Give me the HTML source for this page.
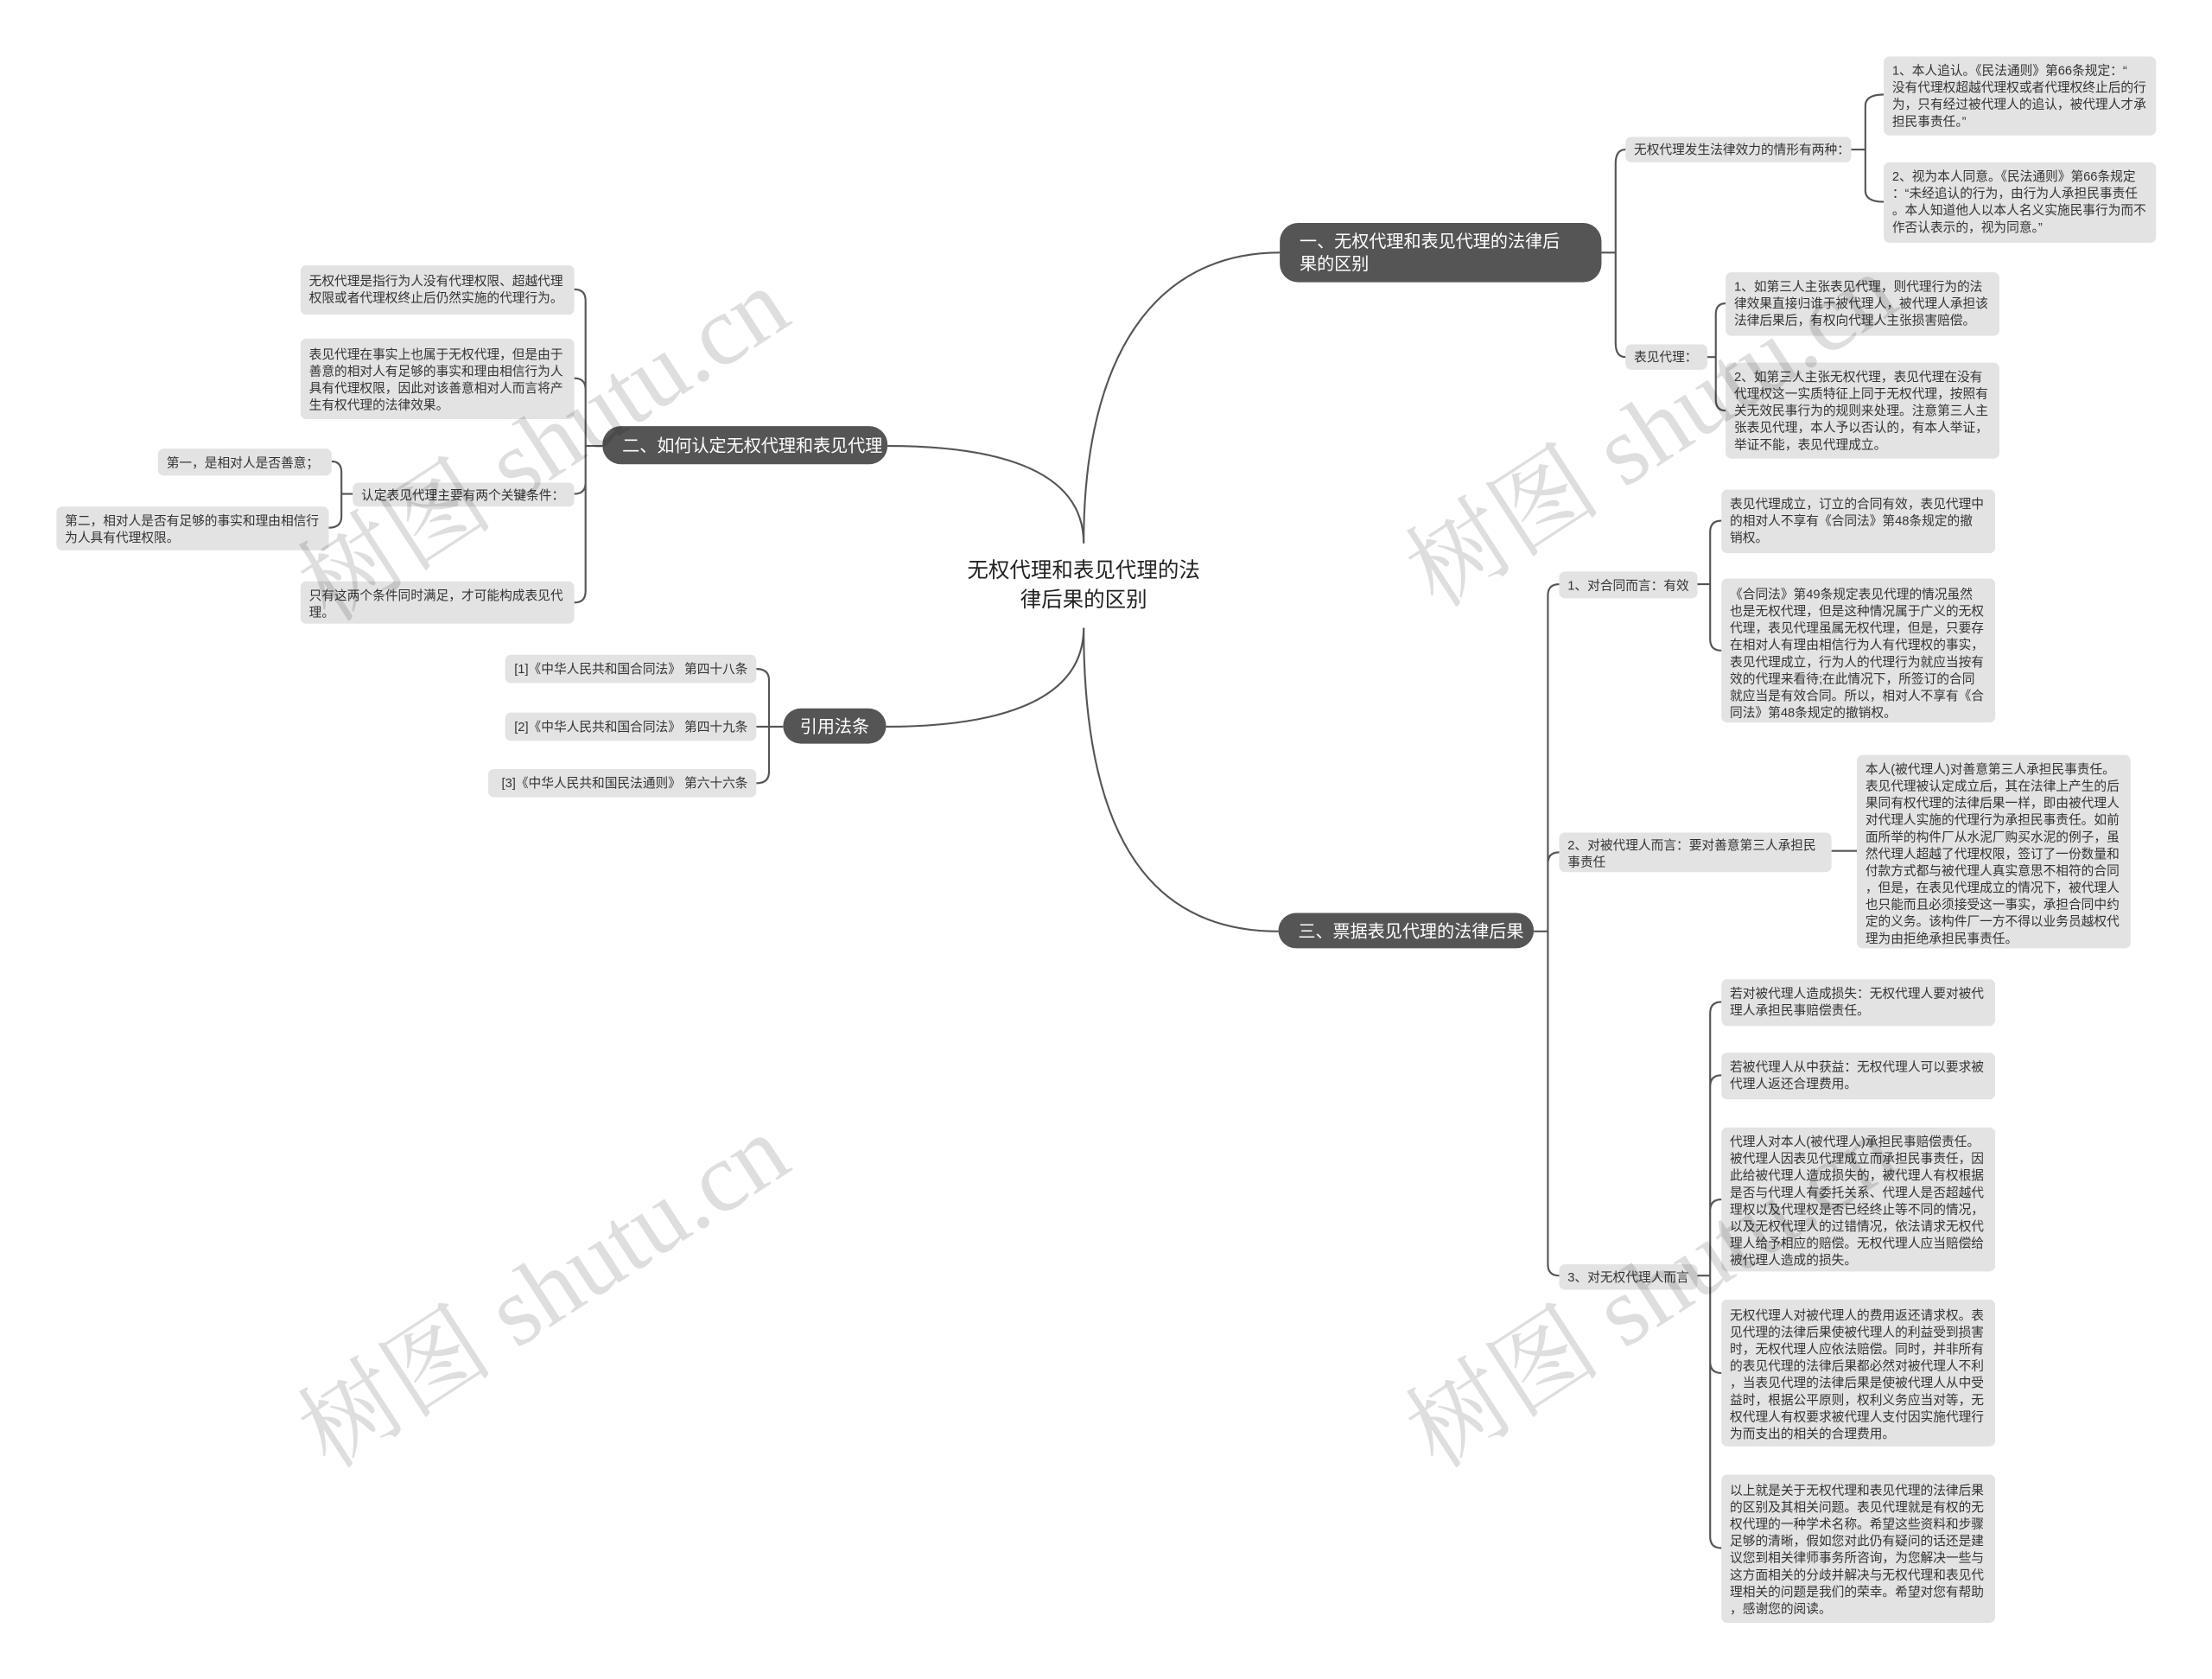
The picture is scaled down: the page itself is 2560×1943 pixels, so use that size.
<!DOCTYPE html>
<html><head><meta charset="utf-8">
<style>
html,body{margin:0;padding:0;background:#fff;}
body{width:2560px;height:1943px;overflow:hidden;position:relative;}
#w{position:absolute;left:0;top:0;width:1568px;height:1190px;transform:scale(1.633);transform-origin:0 0;font-family:"Liberation Sans","Noto Sans CJK SC",sans-serif;}
.n{position:absolute;background:#e3e3e3;border-radius:4px;font-size:9px;line-height:12px;color:#333;padding:4px 6px;box-sizing:border-box;white-space:nowrap;}
.d{position:absolute;background:#555;color:#fff;border-radius:13px;font-size:12.3px;line-height:16px;box-sizing:border-box;white-space:nowrap;display:flex;align-items:center;padding:0 14px;}
.c{position:absolute;font-size:15px;line-height:21px;color:#222;text-align:center;white-space:nowrap;}
svg{position:absolute;left:0;top:0;}
.wm{position:absolute;font-family:"Liberation Serif","Noto Serif CJK SC",serif;font-size:70px;color:rgba(0,0,0,0.13);transform:rotate(-33deg);transform-origin:0 0;white-space:nowrap;pointer-events:none;}
</style></head><body><div id="w">
<svg width="1568" height="1190" fill="none" stroke="#555" stroke-width="1.3">
<path d="M768 385 C768 250 820 179 907 179"/>
<path d="M768 385 C768 330 700 316 629 316"/>
<path d="M768 445 C768 500 700 515 628 515"/>
<path d="M768 445 C768 600 820 660 906 660"/>
<path d="M1135 179 H1145 M1145 179 V116 Q1145 106 1152 106 M1145 179 V243 Q1145 253 1152 253"/>
<path d="M1312 106 H1322 M1322 106 V75 Q1322 67 1335 67 M1322 106 V135 Q1322 143 1335 143"/>
<path d="M1210 253 H1216 M1216 253 V223 Q1216 215 1223 215 M1216 253 V283 Q1216 291 1223 291"/>
<path d="M427 316 H415 M415 316 V213 Q415 205 407 205 M415 316 V276 Q415 268 407 268 M415 316 V342 Q415 350 407 350 M415 316 V419 Q415 427 407 427"/>
<path d="M250 350 H242 M242 350 V335 Q242 327 235 327 M242 350 V366 Q242 374 233 374"/>
<path d="M555 515 H545 M545 515 V482 Q545 474 536 474 M545 515 H536 M545 515 V547 Q545 555 536 555"/>
<path d="M1087 660 H1097 M1097 660 V422 Q1097 414 1105 414 M1097 660 V612 Q1097 604 1105 604 M1097 660 V896 Q1097 904 1105 904"/>
<path d="M1203 414 H1212 M1212 414 V377 Q1212 369 1220 369 M1212 414 V453 Q1212 461 1220 461"/>
<path d="M1298 603 H1316"/>
<path d="M1203 904 H1212 M1212 904 V718 Q1212 710 1220 710 M1212 904 V770 Q1212 762 1220 762 M1212 904 V858 Q1212 850 1220 850 M1212 904 V965 Q1212 973 1220 973 M1212 904 V1089 Q1212 1097 1220 1097"/>
</svg>

<div class="c" style="left:672px;top:394px;width:192px;">无权代理和表见代理的法<br>律后果的区别</div>

<div class="d" style="left:907px;top:158px;width:228px;height:42px;">一、无权代理和表见代理的法律后<br>果的区别</div>
<div class="n" style="left:1152px;top:97px;width:160px;height:18px;padding-top:3px;">无权代理发生法律效力的情形有两种：</div>
<div class="n" style="left:1335px;top:40px;width:193px;height:56px;">1、本人追认。《民法通则》第66条规定：“<br>没有代理权超越代理权或者代理权终止后的行<br>为，只有经过被代理人的追认，被代理人才承<br>担民事责任。”</div>
<div class="n" style="left:1335px;top:115px;width:193px;height:57px;">2、视为本人同意。《民法通则》第66条规定<br>：“未经追认的行为，由行为人承担民事责任<br>。本人知道他人以本人名义实施民事行为而不<br>作否认表示的，视为同意。”</div>
<div class="n" style="left:1152px;top:244px;width:58px;height:18px;padding-top:3px;">表见代理：</div>
<div class="n" style="left:1223px;top:193px;width:194px;height:45px;">1、如第三人主张表见代理，则代理行为的法<br>律效果直接归谁于被代理人，被代理人承担该<br>法律后果后，有权向代理人主张损害赔偿。</div>
<div class="n" style="left:1223px;top:257px;width:194px;height:68px;">2、如第三人主张无权代理，表见代理在没有<br>代理权这一实质特征上同于无权代理，按照有<br>关无效民事行为的规则来处理。注意第三人主<br>张表见代理，本人予以否认的，有本人举证，<br>举证不能，表见代理成立。</div>

<div class="d" style="left:427px;top:302px;width:202px;height:27px;">二、如何认定无权代理和表见代理</div>
<div class="n" style="left:213px;top:188px;width:194px;height:35px;padding-top:5px;">无权代理是指行为人没有代理权限、超越代理<br>权限或者代理权终止后仍然实施的代理行为。</div>
<div class="n" style="left:213px;top:240px;width:194px;height:57px;padding-top:5px;">表见代理在事实上也属于无权代理，但是由于<br>善意的相对人有足够的事实和理由相信行为人<br>具有代理权限，因此对该善意相对人而言将产<br>生有权代理的法律效果。</div>
<div class="n" style="left:250px;top:342px;width:157px;height:17px;padding-top:3px;">认定表见代理主要有两个关键条件：</div>
<div class="n" style="left:112px;top:318px;width:123px;height:19px;padding-top:4px;">第一，是相对人是否善意；</div>
<div class="n" style="left:40px;top:359px;width:193px;height:31px;">第二，相对人是否有足够的事实和理由相信行<br>为人具有代理权限。</div>
<div class="n" style="left:213px;top:412px;width:194px;height:30px;">只有这两个条件同时满足，才可能构成表见代<br>理。</div>

<div class="d" style="left:555px;top:502px;width:73px;height:25px;justify-content:center;padding:0;">引用法条</div>
<div class="n" style="left:358px;top:464px;width:178px;height:20px;padding-top:4px;text-align:right;">[1]《中华人民共和国合同法》 第四十八条</div>
<div class="n" style="left:358px;top:505px;width:178px;height:20px;padding-top:4px;text-align:right;">[2]《中华人民共和国合同法》 第四十九条</div>
<div class="n" style="left:346px;top:545px;width:190px;height:20px;padding-top:4px;text-align:right;">[3]《中华人民共和国民法通则》 第六十六条</div>

<div class="d" style="left:906px;top:647px;width:181px;height:25px;">三、票据表见代理的法律后果</div>
<div class="n" style="left:1105px;top:405px;width:98px;height:19px;padding-top:4px;">1、对合同而言：有效</div>
<div class="n" style="left:1220px;top:347px;width:194px;height:45px;">表见代理成立，订立的合同有效，表见代理中<br>的相对人不享有《合同法》第48条规定的撤<br>销权。</div>
<div class="n" style="left:1220px;top:410px;width:194px;height:102px;padding-top:5px;">《合同法》第49条规定表见代理的情况虽然<br>也是无权代理，但是这种情况属于广义的无权<br>代理，表见代理虽属无权代理，但是，只要存<br>在相对人有理由相信行为人有代理权的事实，<br>表见代理成立，行为人的代理行为就应当按有<br>效的代理来看待;在此情况下，所签订的合同<br>就应当是有效合同。所以，相对人不享有《合<br>同法》第48条规定的撤销权。</div>
<div class="n" style="left:1105px;top:590px;width:193px;height:28px;padding-top:3px;">2、对被代理人而言：要对善意第三人承担民<br>事责任</div>
<div class="n" style="left:1316px;top:535px;width:194px;height:137px;padding-top:4px;">本人(被代理人)对善意第三人承担民事责任。<br>表见代理被认定成立后，其在法律上产生的后<br>果同有权代理的法律后果一样，即由被代理人<br>对代理人实施的代理行为承担民事责任。如前<br>面所举的构件厂从水泥厂购买水泥的例子，虽<br>然代理人超越了代理权限，签订了一份数量和<br>付款方式都与被代理人真实意思不相符的合同<br>，但是，在表见代理成立的情况下，被代理人<br>也只能而且必须接受这一事实，承担合同中约<br>定的义务。该构件厂一方不得以业务员越权代<br>理为由拒绝承担民事责任。</div>
<div class="n" style="left:1105px;top:896px;width:98px;height:18px;padding-top:3px;">3、对无权代理人而言</div>
<div class="n" style="left:1220px;top:694px;width:194px;height:33px;">若对被代理人造成损失：无权代理人要对被代<br>理人承担民事赔偿责任。</div>
<div class="n" style="left:1220px;top:746px;width:194px;height:33px;">若被代理人从中获益：无权代理人可以要求被<br>代理人返还合理费用。</div>
<div class="n" style="left:1220px;top:799px;width:194px;height:102px;padding-top:4px;">代理人对本人(被代理人)承担民事赔偿责任。<br>被代理人因表见代理成立而承担民事责任，因<br>此给被代理人造成损失的，被代理人有权根据<br>是否与代理人有委托关系、代理人是否超越代<br>理权以及代理权是否已经终止等不同的情况，<br>以及无权代理人的过错情况，依法请求无权代<br>理人给予相应的赔偿。无权代理人应当赔偿给<br>被代理人造成的损失。</div>
<div class="n" style="left:1220px;top:921px;width:194px;height:104px;padding-top:5px;">无权代理人对被代理人的费用返还请求权。表<br>见代理的法律后果使被代理人的利益受到损害<br>时，无权代理人应依法赔偿。同时，并非所有<br>的表见代理的法律后果都必然对被代理人不利<br>，当表见代理的法律后果是使被代理人从中受<br>益时，根据公平原则，权利义务应当对等，无<br>权代理人有权要求被代理人支付因实施代理行<br>为而支出的相关的合理费用。</div>
<div class="n" style="left:1220px;top:1045px;width:194px;height:105px;padding-top:5px;">以上就是关于无权代理和表见代理的法律后果<br>的区别及其相关问题。表见代理就是有权的无<br>权代理的一种学术名称。希望这些资料和步骤<br>足够的清晰，假如您对此仍有疑问的话还是建<br>议您到相关律师事务所咨询，为您解决一些与<br>这方面相关的分歧并解决与无权代理和表见代<br>理相关的问题是我们的荣幸。希望对您有帮助<br>，感谢您的阅读。</div>

<div class="wm" style="left:190px;top:375px;">树图 shutu.cn</div>
<div class="wm" style="left:190px;top:975px;">树图 shutu.cn</div>
<div class="wm" style="left:975px;top:365px;">树图 shutu.cn</div>
<div class="wm" style="left:975px;top:975px;">树图 shutu.cn</div>
</div></body></html>
